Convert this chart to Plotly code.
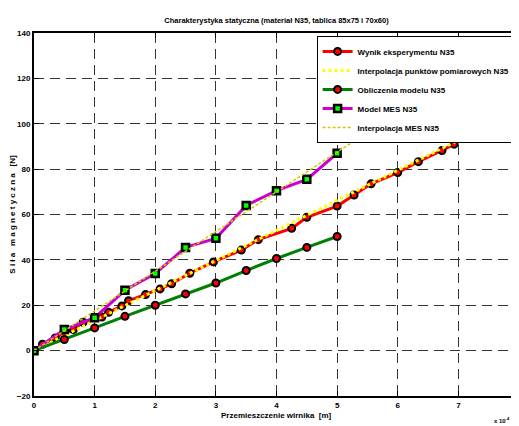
import plotly.graph_objects as go

# displacement in units of 1e-4 m
exp_x = [0, 0.14, 0.35, 0.65, 0.81, 1.12, 1.23, 1.45, 1.56, 1.84, 2.08, 2.27, 2.57,
         2.96, 3.42, 3.70, 4.25, 4.50, 5.00, 5.28, 5.56, 6.00, 6.34, 6.73, 6.93]
exp_y = [0, 2.8, 5.6, 9.3, 12.5, 14.8, 16.9, 19.7, 22.0, 24.7, 27.2, 29.5, 34.1,
         39.1, 44.3, 48.9, 53.9, 58.8, 63.7, 68.6, 73.5, 78.5, 83.3, 88.2, 91.0]

interp_exp_x = [0, 8]
interp_exp_y = [0, 106]

model_x = [0, 0.5, 1, 1.5, 2, 2.5, 3, 3.5, 4, 4.5, 5]
model_y = [0, 4.9, 10, 15.1, 20, 25, 29.8, 35.3, 40.6, 45.5, 50.3]

mes_x = [0, 0.5, 1, 1.5, 2, 2.5, 3, 3.5, 4, 4.5, 5]
mes_y = [0, 9.3, 14.5, 26.6, 34, 45.5, 49.5, 64, 70.5, 75.5, 87]

interp_mes_x = [0, 8]
interp_mes_y = [0, 140]

x_ticks = [0, 1, 2, 3, 4, 5, 6, 7, 8]
y_ticks = [-20, 0, 20, 40, 60, 80, 100, 120, 140]

FONT = "Liberation Sans, Arial, sans-serif"

fig = go.Figure()
fig.add_trace(go.Scatter(
    x=exp_x, y=exp_y, mode="lines+markers", name="Wynik eksperymentu N35",
    line=dict(color="#ff0000", width=3),
    marker=dict(symbol="circle", size=7, color="#ff0000", line=dict(color="black", width=2))))
fig.add_trace(go.Scatter(
    x=interp_exp_x, y=interp_exp_y, mode="lines", name="Interpolacja punktów pomiarowych N35",
    line=dict(color="#ffff00", width=3, dash="dot")))
fig.add_trace(go.Scatter(
    x=model_x, y=model_y, mode="lines+markers", name="Obliczenia modelu N35",
    line=dict(color="#008000", width=3),
    marker=dict(symbol="circle", size=7, color="#ff0000", line=dict(color="black", width=2))))
fig.add_trace(go.Scatter(
    x=mes_x, y=mes_y, mode="lines+markers", name="Model MES N35",
    line=dict(color="#cc00cc", width=3),
    marker=dict(symbol="square", size=7, color="#00ff00", line=dict(color="black", width=2.5))))
fig.add_trace(go.Scatter(
    x=interp_mes_x, y=interp_mes_y, mode="lines", name="Interpolacja MES N35",
    line=dict(color="#cccc00", width=1.5, dash="3px,2px")))

axis_common = dict(
    showline=True, linecolor="black", linewidth=2, mirror="ticks",
    ticks="inside", ticklen=5, tickcolor="black", tickwidth=1,
    showgrid=True, gridcolor="#333333", gridwidth=1, griddash="10px,6px",
    zeroline=False, tickfont=dict(family=FONT, size=8, color="black", weight="bold"),
)

# page body adds an 8px offset; figure is sized so the plot area lands where the reference has it
fig.update_layout(
    width=511, height=418,
    margin=dict(l=26, r=0, t=25, b=30, autoexpand=False),
    paper_bgcolor="white", plot_bgcolor="white",
    title=dict(text="Charakterystyka statyczna (materiał N35, tablica 85x75 i 70x60)",
               x=0.5, xref="paper", xanchor="center", y=1 - 12 / 418, yref="container",
               yanchor="middle",
               font=dict(family=FONT, size=7.5, color="black", weight="bold")),
    showlegend=True,
    legend=dict(x=0.993, y=0.992, xanchor="right", yanchor="top",
                bgcolor="white", bordercolor="black", borderwidth=1,
                font=dict(family=FONT, size=8, color="black", weight="bold"),
                tracegroupgap=0, itemwidth=30),
)
fig.update_xaxes(range=[0, 8], tickvals=x_ticks, **axis_common)
fig.update_yaxes(range=[-20, 140], tickvals=y_ticks, **axis_common)

fig.add_annotation(text="Przemieszczenie wirnika  [m]", xref="paper", yref="paper",
                   x=0.5, y=-0.055, xanchor="center", yanchor="middle", showarrow=False,
                   font=dict(family=FONT, size=8, color="black", weight="bold"))
fig.add_annotation(text="S i ł a   m a g n e t y c z n a   [N]", xref="paper", yref="paper",
                   x=-0.045, y=0.5, xanchor="center", yanchor="middle", textangle=-90,
                   showarrow=False,
                   font=dict(family=FONT, size=8, color="black", weight="bold"))
fig.add_annotation(text="x 10<sup>-4</sup>", xref="paper", yref="paper",
                   x=0.985, y=-0.066, xanchor="right", yanchor="middle", showarrow=False,
                   font=dict(family=FONT, size=6, color="black", weight="bold"))

fig.write_html("out.html")
